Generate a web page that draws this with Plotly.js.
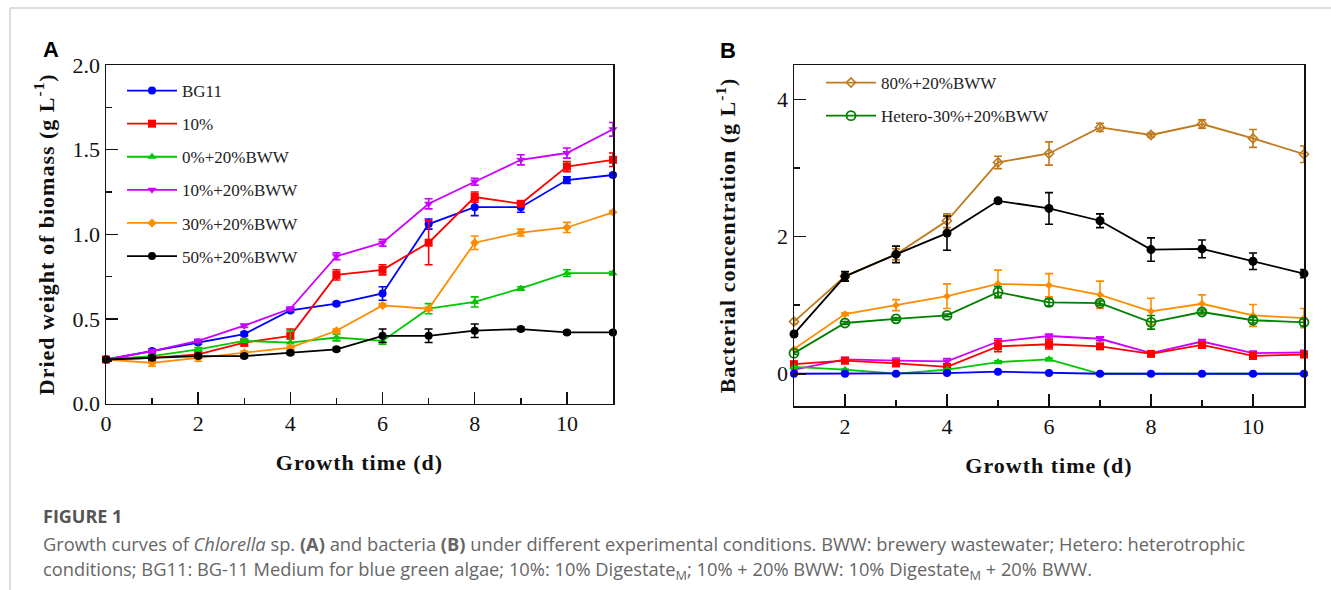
<!DOCTYPE html>
<html>
<head>
<meta charset="utf-8">
<script src="https://cdn.plot.ly/plotly-3.0.1.min.js"></script>
<style>
html,body{margin:0;padding:0;background:#fff;}
#chart{width:1331px;height:590px;}
text.xtitle, text.ytitle, text.x2title, text.y2title {letter-spacing: 1px;}
</style>
</head>
<body>
<div id="chart"></div>
<script>
// ---------- Panel A: Chlorella biomass ----------
const daysA = [0,1,2,3,4,5,6,7,8,9,10,11];
const namesA = ["BG11","10%","0%+20%BWW","10%+20%BWW","30%+20%BWW","50%+20%BWW"];
const bg11A     = [0.26,0.31,0.36,0.41,0.55,0.59,0.65,1.06,1.16,1.16,1.32,1.35];
const bg11AErr  = [0.01,0.01,0.01,0.01,0.01,0.01,0.04,0.03,0.05,0.03,0.02,0.01];
const d10A      = [0.26,0.27,0.29,0.36,0.40,0.76,0.79,0.95,1.22,1.18,1.40,1.44];
const d10AErr   = [0.01,0.02,0.02,0.02,0.04,0.03,0.03,0.13,0.03,0.01,0.03,0.04];
const d0bA      = [0.26,0.28,0.32,0.37,0.36,0.39,0.37,0.56,0.60,0.68,0.77,0.77];
const d0bAErr   = [0.01,0.01,0.01,0.01,0.07,0.02,0.02,0.03,0.03,0.01,0.02,0.01];
const d10bA     = [0.26,0.31,0.37,0.46,0.56,0.87,0.95,1.18,1.31,1.44,1.48,1.62];
const d10bAErr  = [0.01,0.01,0.01,0.01,0.01,0.02,0.02,0.03,0.02,0.03,0.03,0.04];
const d30bA     = [0.26,0.24,0.27,0.30,0.33,0.43,0.58,0.56,0.95,1.01,1.04,1.13];
const d30bAErr  = [0.01,0.02,0.02,0.01,0.01,0.01,0.01,0.01,0.04,0.02,0.03,0.01];
const d50bA     = [0.26,0.27,0.28,0.28,0.30,0.32,0.40,0.40,0.43,0.44,0.42,0.42];
const d50bAErr  = [0.01,0.01,0.01,0.01,0.01,0.01,0.04,0.04,0.04,0.01,0.01,0.01];

// ---------- Panel B: bacterial concentration ----------
const daysB = [1,2,3,4,5,6,7,8,9,10,11];
const namesB = ["80%+20%BWW","Hetero-30%+20%BWW"];
const b80B      = [0.76,1.42,1.74,2.23,3.08,3.21,3.59,3.48,3.64,3.43,3.20];
const b80BErr   = [0.03,0.06,0.08,0.10,0.09,0.17,0.06,0.03,0.06,0.13,0.12];
const b50B      = [0.58,1.42,1.74,2.05,2.52,2.41,2.23,1.81,1.82,1.64,1.46];
const b50BErr   = [0.03,0.07,0.12,0.25,0.03,0.23,0.10,0.17,0.13,0.12,0.06];
const b30B      = [0.36,0.87,1.00,1.13,1.31,1.29,1.15,0.91,1.02,0.85,0.81];
const b30BErr   = [0.02,0.02,0.08,0.18,0.20,0.17,0.20,0.19,0.13,0.16,0.14];
const bHetB     = [0.30,0.74,0.80,0.85,1.19,1.04,1.03,0.75,0.90,0.78,0.75];
const bHetBErr  = [0.02,0.02,0.02,0.02,0.08,0.05,0.03,0.10,0.03,0.04,0.05];
const b10bB     = [0.06,0.21,0.19,0.18,0.47,0.55,0.51,0.30,0.47,0.30,0.31];
const b10bBErr  = [0.02,0.03,0.04,0.04,0.04,0.03,0.03,0.02,0.03,0.03,0.03];
const b10B      = [0.14,0.19,0.15,0.10,0.40,0.43,0.40,0.29,0.42,0.26,0.28];
const b10BErr   = [0.03,0.03,0.03,0.03,0.08,0.07,0.03,0.03,0.04,0.04,0.04];
const b0bB      = [0.10,0.06,0.00,0.06,0.17,0.21,0.00,0.00,0.00,0.00,0.00];
const b0bBErr   = [0.01,0.01,0.01,0.01,0.02,0.02,0.01,0.01,0.01,0.01,0.01];
const bBG11B    = [0.00,0.00,0.00,0.01,0.03,0.01,0.00,0.00,0.00,0.00,0.00];
const bBG11BErr = [0.01,0.01,0.01,0.01,0.01,0.01,0.01,0.01,0.01,0.01,0.01];

const C = {blue:"#0000ff", red:"#ff0000", green:"#00c800", magenta:"#cc00ff",
           orange:"#ff8c00", black:"#000000", brown:"#c07a1e", dkgreen:"#008000"};

const SERIF = "Liberation Serif, Times New Roman, serif";

function tr(x, y, err, name, color, symbol, size, xa, ya, opts) {
  opts = opts || {};
  return Object.assign({
    type: "scatter", mode: "lines+markers", x: x, y: y, name: name,
    xaxis: xa, yaxis: ya, cliponaxis: false,
    line: {color: color, width: 1.8},
    marker: Object.assign({color: color, symbol: symbol, size: size}, opts.marker || {}),
    error_y: {type: "data", array: err, visible: true, color: color, thickness: 1.6, width: 4},
    legendgroup: name + xa
  }, opts.extra || {});
}

const traces = [
  tr(daysA, bg11A, bg11AErr, namesA[0], C.blue, "circle", 8, "x", "y"),
  tr(daysA, d10A, d10AErr, namesA[1], C.red, "square", 8, "x", "y"),
  tr(daysA, d0bA, d0bAErr, namesA[2], C.green, "triangle-up", 8, "x", "y"),
  tr(daysA, d10bA, d10bAErr, namesA[3], C.magenta, "triangle-down", 8, "x", "y"),
  tr(daysA, d30bA, d30bAErr, namesA[4], C.orange, "diamond", 7, "x", "y"),
  tr(daysA, d50bA, d50bAErr, namesA[5], C.black, "circle", 8, "x", "y"),

  tr(daysB, b80B, b80BErr, namesB[0], C.brown, "diamond-open", 7, "x2", "y2",
     {marker: {line: {width: 1.6, color: C.brown}}, extra: {legend: "legend2"}}),
  tr(daysB, b50B, b50BErr, "50%+20%BWW", C.black, "circle", 9, "x2", "y2", {extra: {showlegend: false}}),
  tr(daysB, b30B, b30BErr, "30%+20%BWW", C.orange, "diamond", 6, "x2", "y2", {extra: {showlegend: false}}),
  tr(daysB, bHetB, bHetBErr, namesB[1], C.dkgreen, "circle-open", 9, "x2", "y2",
     {marker: {line: {width: 1.8, color: C.dkgreen}}, extra: {legend: "legend2"}}),
  tr(daysB, b10bB, b10bBErr, "10%+20%BWW", C.magenta, "triangle-down", 8, "x2", "y2", {extra: {showlegend: false}}),
  tr(daysB, b10B, b10BErr, "10%", C.red, "square", 8, "x2", "y2", {extra: {showlegend: false}}),
  tr(daysB, b0bB, b0bBErr, "0%+20%BWW", C.green, "triangle-up", 8, "x2", "y2", {extra: {showlegend: false}}),
  tr(daysB, bBG11B, bBG11BErr, "BG11", C.blue, "circle", 8, "x2", "y2", {extra: {showlegend: false}})
];

const W = 1331, H = 590;
const px = v => v / W, py = v => 1 - v / H;

function axisBase() {
  return {
    showline: true, linecolor: "#111", linewidth: 1.5, mirror: true,
    ticks: "inside", ticklen: 12, tickwidth: 1.5, tickcolor: "#111",
    showgrid: false, zeroline: false, fixedrange: true,
    tickfont: {family: SERIF, size: 22, color: "#111"}
  };
}
const minorT = (d) => ({ticks: "inside", ticklen: 6, tickwidth: 1.5, tickcolor: "#111", dtick: d, tick0: 0, showgrid: false});
const titleFont = {family: SERIF, size: 22, color: "#111"};

const xA = Object.assign(axisBase(), {
  domain: [px(106), px(613)], range: [0, 11], tick0: 0, dtick: 2, anchor: "y",
  minor: minorT(1),
  title: {text: "<b>Growth time (d)</b>", font: titleFont, standoff: 19}
});
const yA = Object.assign(axisBase(), {
  domain: [py(403.5), py(65)], range: [0, 2], tick0: 0, dtick: 0.5, tickformat: ".1f", anchor: "x",
  minor: minorT(0.25),
  title: {text: "<b>Dried weight of biomass (g L<sup>-1</sup>)</b>", font: titleFont, standoff: 12}
});
const xB = Object.assign(axisBase(), {
  domain: [px(794), px(1304)], range: [1, 11], tick0: 0, dtick: 2, anchor: "y2",
  minor: minorT(1),
  title: {text: "<b>Growth time (d)</b>", font: titleFont, standoff: 19}
});
const yB = Object.assign(axisBase(), {
  domain: [py(406), py(65)], range: [-0.47, 4.5], tick0: 0, dtick: 2, anchor: "x2",
  minor: minorT(1),
  title: {text: "<b>Bacterial concentration (g L<sup>-1</sup>)</b>", font: titleFont, standoff: 35}
});

const CAP = "Open Sans, Noto Sans, sans-serif";
const legendBase = {
  xanchor: "left", yanchor: "top",
  bgcolor: "rgba(0,0,0,0)", borderwidth: 0, traceorder: "grouped", tracegroupgap: 8,
  itemwidth: 50, font: {family: SERIF, size: 17, color: "#222"}
};
const layout = {
  width: W, height: H, margin: {l: 0, r: 0, t: 0, b: 0},
  paper_bgcolor: "#fff", plot_bgcolor: "#fff",
  xaxis: xA, yaxis: yA, xaxis2: xB, yaxis2: yB,
  legend: Object.assign({x: px(122), y: py(73)}, legendBase),
  legend2: Object.assign({x: px(821), y: py(65)}, legendBase),
  shapes: [
    {type: "line", xref: "paper", yref: "paper", x0: px(10), x1: 1, y0: py(8), y1: py(8), line: {color: "#dcdcdc", width: 2}},
    {type: "line", xref: "paper", yref: "paper", x0: px(10), x1: px(10), y0: py(8), y1: 0, line: {color: "#dcdcdc", width: 2}}
  ],
  annotations: [
    {text: "<b>A</b>", xref: "paper", yref: "paper", x: px(51), y: py(49), xanchor: "center", yanchor: "middle", showarrow: false,
     font: {family: "Liberation Sans, Arial, sans-serif", size: 22, color: "#000"}},
    {text: "<b>B</b>", xref: "paper", yref: "paper", x: px(728), y: py(50), xanchor: "center", yanchor: "middle", showarrow: false,
     font: {family: "Liberation Sans, Arial, sans-serif", size: 22, color: "#000"}},
    {text: "<b>FIGURE 1</b>", xref: "paper", yref: "paper", x: px(41), y: py(516), xanchor: "left", yanchor: "middle", showarrow: false,
     font: {family: CAP, size: 18, color: "#555"}},
    {text: "Growth curves of <i>Chlorella</i> sp. <b>(A)</b> and bacteria <b>(B)</b> under different experimental conditions. BWW: brewery wastewater; Hetero: heterotrophic",
     xref: "paper", yref: "paper", x: px(41), y: py(543), xanchor: "left", yanchor: "middle", showarrow: false,
     font: {family: CAP, size: 18.3, color: "#666"}},
    {text: "conditions; BG11: BG-11 Medium for blue green algae; 10%: 10% Digestate<sub>M</sub>; 10% + 20% BWW: 10% Digestate<sub>M</sub> + 20% BWW.",
     xref: "paper", yref: "paper", x: px(41), y: py(570), xanchor: "left", yanchor: "middle", showarrow: false,
     font: {family: CAP, size: 18.3, color: "#666"}}
  ]
};

Plotly.newPlot("chart", traces, layout, {displayModeBar: false, staticPlot: true});
</script>
</body>
</html>
